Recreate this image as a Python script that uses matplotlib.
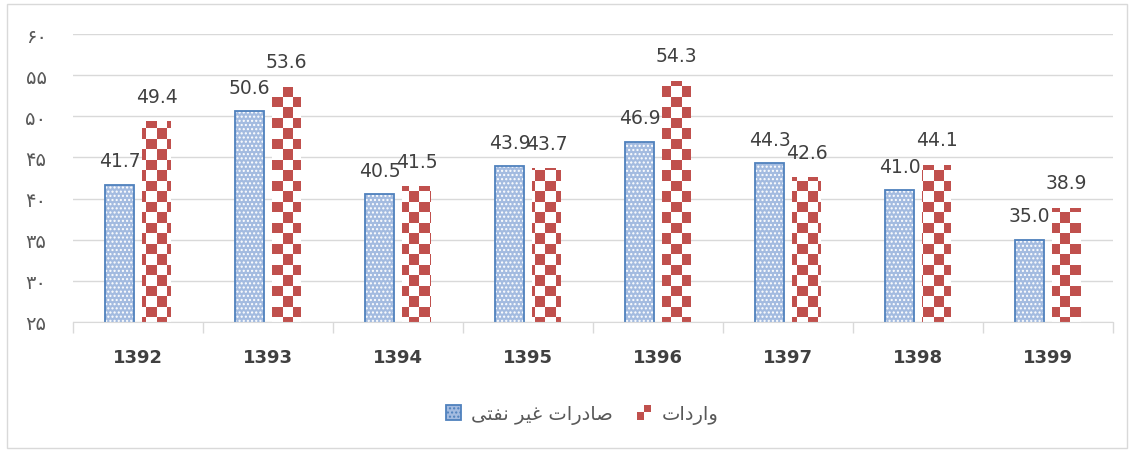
import numpy as np
import matplotlib
matplotlib.use("Agg")
import matplotlib.pyplot as plt
from matplotlib.patches import Rectangle, Patch
from matplotlib.colors import ListedColormap
from matplotlib.legend_handler import HandlerBase

years = ["1392", "1393", "1394", "1395", "1396", "1397", "1398", "1399"]
exports = [41.7, 50.6, 40.5, 43.9, 46.9, 44.3, 41.0, 35.0]   # صادرات غیر نفتی
imports = [49.4, 53.6, 41.5, 43.7, 54.3, 42.6, 44.1, 38.9]   # واردات
ytick_vals = [25, 30, 35, 40, 45, 50, 55, 60]
ytick_labels = ["۲۵", "۳۰", "۳۵", "۴۰", "۴۵", "۵۰", "۵۵", "۶۰"]

# Persian legend labels, pre-shaped (presentation forms) and in visual order
exports_name = "\uFEBB\uFE8E\uFEA9\uFEAD\uFE8D\uFE95 \uFECF\uFEF4\uFEAE \uFEE7\uFED4\uFE98\uFEF0"[::-1]
imports_name = "\u0648\u0627\u0631\u062F\u0627\u062A"[::-1]

BLUE_EDGE = "#4F81BD"
BLUE_FACE = "#A3BBE0"
RED = "#C0504D"

L, R, T, B = 73, 1113, 35, 323
fig = plt.figure(figsize=(11.31, 4.52), dpi=100)
ax = fig.add_axes([L/1131, 1 - B/452, (R-L)/1131, (B-T)/452])

x = np.arange(len(years))
bw = 0.23
off = 0.1425

# exports bars
ax.bar(x - off, exports, bw, color=BLUE_FACE, edgecolor="none", zorder=2)
ax.bar(x - off, exports, bw, color="none", edgecolor="white", hatch="....", linewidth=0, zorder=3)
ax.bar(x - off, exports, bw, color="none", edgecolor=BLUE_EDGE, linewidth=1.3, zorder=4)

# imports bars with checkerboard fill
b2 = ax.bar(x + off, imports, bw, color="white", edgecolor="none", zorder=2)
sq = 10.5
axw, axh = R - L, B - T
nx, ny = int(np.ceil(axw / sq)), int(np.ceil(axh / sq))
ii, jj = np.meshgrid(np.arange(nx), np.arange(ny))
checker = ((ii + jj) % 2).astype(float)
cmap = ListedColormap(["white", RED])
for p in b2.patches:
    im = ax.imshow(checker, cmap=cmap, vmin=0, vmax=1, interpolation="nearest",
                   extent=[0, nx*sq/axw, 1 - ny*sq/axh, 1], transform=ax.transAxes,
                   aspect="auto", zorder=3)
    im.set_clip_path(p.get_path(), p.get_transform())
    im.set_clip_box(ax.bbox)

ax.set_xlim(-0.5, len(years) - 0.5)
ax.set_ylim(25, 60)

# data labels
for xi, v in zip(x, exports):
    ax.annotate(f"{v:.1f}", (xi - off, v), xytext=(0, 24), textcoords="offset pixels",
                ha="center", va="center", fontsize=13.5, color="#404040", zorder=5)
for xi, v in zip(x, imports):
    ax.annotate(f"{v:.1f}", (xi + off, v), xytext=(0, 25), textcoords="offset pixels",
                ha="center", va="center", fontsize=13.5, color="#404040", zorder=5)

ax.set_yticks(ytick_vals)
ax.set_yticklabels(ytick_labels, fontsize=14, color="#595959")
ax.tick_params(axis="y", length=0, pad=19)
ax.yaxis.grid(True, color="#D9D9D9", linewidth=1)
ax.set_axisbelow(True)

ax.set_xticks(x)
ax.set_xticklabels(years, fontsize=13, fontweight="bold", color="#404040")
ax.set_xticks(np.arange(-0.5, len(years)), minor=True)
ax.tick_params(axis="x", which="major", length=0, pad=19)
ax.tick_params(axis="x", which="minor", length=8, color="#D9D9D9", width=1)

for s in ["top", "right", "left"]:
    ax.spines[s].set_visible(False)
ax.spines["bottom"].set_color("#D9D9D9")
ax.spines["bottom"].set_zorder(6)


class CheckerHandler(HandlerBase):
    def create_artists(self, legend, orig_handle, xdescent, ydescent, width, height, fontsize, trans):
        s = min(width, height)
        x0 = -xdescent + (width - s) / 2
        y0 = -ydescent + (height - s) / 2
        h = s / 2
        r1 = Rectangle((x0 + h, y0 + h), h, h, facecolor=RED, edgecolor="none", transform=trans)
        r2 = Rectangle((x0, y0), h, h, facecolor=RED, edgecolor="none", transform=trans)
        return [r1, r2]


class BoxHandler(HandlerBase):
    def create_artists(self, legend, orig_handle, xdescent, ydescent, width, height, fontsize, trans):
        s = min(width, height)
        x0 = -xdescent + (width - s) / 2
        y0 = -ydescent + (height - s) / 2
        r = Rectangle((x0, y0), s, s, facecolor=BLUE_FACE, edgecolor=BLUE_EDGE, lw=1.3,
                      hatch="....", transform=trans)
        return [r]


h_exp = Patch(facecolor=BLUE_FACE, edgecolor=BLUE_EDGE)
h_imp = Patch(facecolor=RED)
leg = fig.legend([h_exp, h_imp], [exports_name, imports_name], loc="center",
                 bbox_to_anchor=(582/1131, 1 - 415/452), ncol=2, frameon=False,
                 fontsize=14, handlelength=0.8, handleheight=0.8,
                 columnspacing=1.2, handletextpad=0.5,
                 handler_map={h_exp: BoxHandler(), h_imp: CheckerHandler()})
for t in leg.get_texts():
    t.set_color("#595959")

fig.patches.append(Rectangle((7/1131, 3/452), 1120/1131, 444/452, transform=fig.transFigure,
                             fill=False, edgecolor="#D9D9D9", linewidth=1))

fig.savefig("out.png", dpi=100)
